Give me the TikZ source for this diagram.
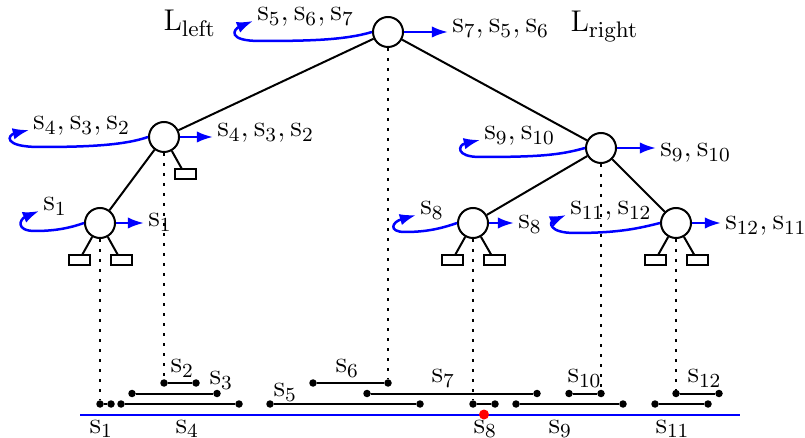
\documentclass[tikz,border=0pt]{standalone}
\usepackage{amsmath,amssymb}
\usepackage{xcolor}
\usepackage{tikz}
\usetikzlibrary{arrows.meta,calc}

\begin{document}
\begin{tikzpicture}[x=0.4pt,y=-0.4pt,
tnode/.style={circle,draw,thick,minimum size=12pt,inner sep=0pt},
leafbox/.style={rectangle,draw,thick,minimum width=8.4pt,minimum height=4pt,inner sep=0pt},
tedge/.style={thick},
drop/.style={line width=1.1pt,dash pattern=on 1.1pt off 2.9pt},
ept/.style={circle,fill,inner sep=0pt,minimum size=3pt},
interval/.style={thick},
barrow/.style={-{Latex[length=6.5pt,width=4.6pt]},line width=1pt,blue},
lbl/.style={anchor=base west,inner sep=1.5pt,font=\large},
txt/.style={anchor=base west,inner sep=0pt,font=\large}]
\useasboundingbox (0,0) rectangle (805,438);
% tree
\node[tnode] (root) at (388,32) {};
\node[tnode] (lft) at (164,137) {};
\node[tnode] (lft1) at (100,223) {};
\node[tnode] (rgt) at (601,148) {};
\node[tnode] (rgt1) at (473,223) {};
\node[tnode] (rgt2) at (676,223) {};
\node[leafbox] (lftleaf) at (185,174.5) {};
\node[leafbox] (lft1a) at (79,260.5) {};
\node[leafbox] (lft1b) at (121,260.5) {};
\node[leafbox] (rgt1a) at (452,260.5) {};
\node[leafbox] (rgt1b) at (494.5,260.5) {};
\node[leafbox] (rgt2a) at (655,260.5) {};
\node[leafbox] (rgt2b) at (697.5,260.5) {};
\draw[tedge] (root) -- (lft);
\draw[tedge] (root) -- (rgt);
\draw[tedge] (lft) -- (lft1);
\draw[tedge] (lft) -- (lftleaf);
\draw[tedge] (lft1) -- (lft1a);
\draw[tedge] (lft1) -- (lft1b);
\draw[tedge] (rgt) -- (rgt1);
\draw[tedge] (rgt) -- (rgt2);
\draw[tedge] (rgt1) -- (rgt1a);
\draw[tedge] (rgt1) -- (rgt1b);
\draw[tedge] (rgt2) -- (rgt2a);
\draw[tedge] (rgt2) -- (rgt2b);
\node[txt,font=\fontsize{13}{15}\selectfont] (lleft) at (163,31) {$\mathrm{L}_{\mathrm{left}}$};
\node[txt,font=\fontsize{13}{15}\selectfont] (lright) at (570,32) {$\mathrm{L}_{\mathrm{right}}$};
% lists
\node[lbl] (rootL) at (253,21) {$\mathrm{s}_5,\mathrm{s}_6,\mathrm{s}_7$};
\node[lbl] (rootR) at (448,33) {$\mathrm{s}_7,\mathrm{s}_5,\mathrm{s}_6$};
\node[lbl] (lftL) at (29,130) {$\mathrm{s}_4,\mathrm{s}_3,\mathrm{s}_2$};
\node[lbl] (lftR) at (213,137) {$\mathrm{s}_4,\mathrm{s}_3,\mathrm{s}_2$};
\node[lbl] (lft1L) at (39,211) {$\mathrm{s}_1$};
\node[lbl] (lft1R) at (144,227) {$\mathrm{s}_1$};
\node[lbl] (rgtL) at (480,140) {$\mathrm{s}_9,\mathrm{s}_{10}$};
\node[lbl] (rgtR) at (656,157) {$\mathrm{s}_9,\mathrm{s}_{10}$};
\node[lbl] (rgt1L) at (416,215) {$\mathrm{s}_8$};
\node[lbl] (rgt1R) at (514,229) {$\mathrm{s}_8$};
\node[lbl] (rgt2L) at (566,215) {$\mathrm{s}_{11},\mathrm{s}_{12}$};
\node[lbl] (rgt2R) at (721,230) {$\mathrm{s}_{12},\mathrm{s}_{11}$};
\draw[barrow] (root) -- (root -| rootR.west);
\draw[barrow] (lft) -- (lft -| lftR.west);
\draw[barrow] (lft1) -- (lft1 -| lft1R.west);
\draw[barrow] (rgt) -- (rgt -| rgtR.west);
\draw[barrow] (rgt1) -- (rgt1 -| rgt1R.west);
\draw[barrow] (rgt2) -- (rgt2 -| rgt2R.west);
\draw[barrow] (root.west) .. controls (345,40) and (310,41) .. (260,41) .. controls (226,41) and (234,29) .. (rootL.base west);
\draw[barrow] (lft.west) .. controls (125,145) and (90,147) .. (40,147) .. controls (2,147) and (8,135) .. (lftL.base west);
\draw[barrow] (lft1.west) .. controls (70,228) and (55,231) .. (35,231) .. controls (15,231) and (20,219) .. (lft1L.base west);
\draw[barrow] (rgt.west) .. controls (560,155) and (540,157) .. (480,157) .. controls (455,157) and (458,145) .. (rgtL.base west);
\draw[barrow] (rgt1.west) .. controls (440,229) and (425,232) .. (405,232) .. controls (388,232) and (392,222) .. (rgt1L.base west);
\draw[barrow] (rgt2.west) .. controls (640,228) and (620,233) .. (575,233) .. controls (548,233) and (550,222) .. (rgt2L.base west);
% segments
\node[ept] (s1a) at (100,404) {}; \node[ept] (s1b) at (111,404) {};
\node[ept] (s2a) at (164,383) {}; \node[ept] (s2b) at (196,383) {};
\node[ept] (s3a) at (132,393.5) {}; \node[ept] (s3b) at (217,393.5) {};
\node[ept] (s4a) at (121,404) {}; \node[ept] (s4b) at (239,404) {};
\node[ept] (s5a) at (270,404) {}; \node[ept] (s5b) at (420,404) {};
\node[ept] (s6a) at (313,383) {}; \node[ept] (s6b) at (388,383) {};
\node[ept] (s7a) at (367,393.5) {}; \node[ept] (s7b) at (537,393.5) {};
\node[ept] (s8a) at (473,404) {}; \node[ept] (s8b) at (495,404) {};
\node[ept] (s9a) at (516,404) {}; \node[ept] (s9b) at (623,404) {};
\node[ept] (s10a) at (569,393.5) {}; \node[ept] (s10b) at (601,393.5) {};
\node[ept] (s11a) at (655,404) {}; \node[ept] (s11b) at (708,404) {};
\node[ept] (s12a) at (676,393.5) {}; \node[ept] (s12b) at (719,393.5) {};
\draw[interval] (s1a) -- (s1b);
\draw[interval] (s2a) -- (s2b);
\draw[interval] (s3a) -- (s3b);
\draw[interval] (s4a) -- (s4b);
\draw[interval] (s5a) -- (s5b);
\draw[interval] (s6a) -- (s6b);
\draw[interval] (s7a) -- (s7b);
\draw[interval] (s8a) -- (s8b);
\draw[interval] (s9a) -- (s9b);
\draw[interval] (s10a) -- (s10b);
\draw[interval] (s11a) -- (s11b);
\draw[interval] (s12a) -- (s12b);
\draw[drop] (root) -- (s6b);
\draw[drop] (lft) -- (s2a);
\draw[drop] (lft1) -- (s1a);
\draw[drop] (rgt) -- (s10b);
\draw[drop] (rgt1) -- (s8a);
\draw[drop] (rgt2) -- (s12a);
\coordinate (axl) at (80,414.5);
\coordinate (axr) at (740,414.5);
\draw[thick,blue] (axl) -- (axr);
\node[circle,fill=red,inner sep=0pt,minimum size=4pt] (query) at (484,414.5) {};
\node[txt] at (89,433) {$\mathrm{s}_1$};
\node[txt] at (175,433) {$\mathrm{s}_4$};
\node[txt] at (473,433) {$\mathrm{s}_8$};
\node[txt] at (548,433) {$\mathrm{s}_9$};
\node[txt] at (655,433) {$\mathrm{s}_{11}$};
\node[txt] at (170,373) {$\mathrm{s}_2$};
\node[txt] at (209,385) {$\mathrm{s}_3$};
\node[txt] at (273,397) {$\mathrm{s}_5$};
\node[txt] at (335,373) {$\mathrm{s}_6$};
\node[txt] at (431,383) {$\mathrm{s}_7$};
\node[txt] at (567,383) {$\mathrm{s}_{10}$};
\node[txt] at (687,383) {$\mathrm{s}_{12}$};
\end{tikzpicture}
\end{document}
